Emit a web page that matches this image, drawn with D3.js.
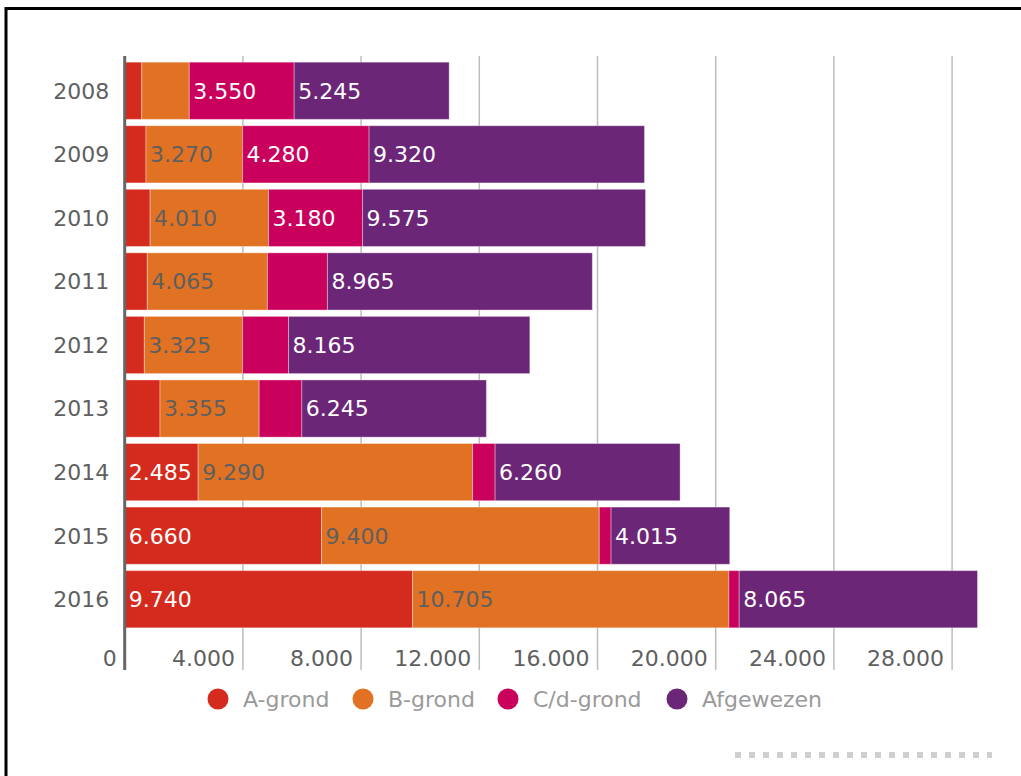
<!DOCTYPE html>
<html>
<head>
<meta charset="utf-8">
<script src="https://cdn.jsdelivr.net/npm/d3@7"></script>
<style>
  html, body { margin: 0; padding: 0; background: #fff; }
  svg { display: block; }
  text { font-family: "DejaVu Sans", Verdana, sans-serif; }
</style>
</head>
<body>
<svg id="chart" width="1021" height="776"></svg>
<script>
// ---- data ----
const years = ["2008", "2009", "2010", "2011", "2012", "2013", "2014", "2015", "2016"];
const seriesNames = ["A-grond", "B-grond", "C/d-grond", "Afgewezen"];
const aGrond    = [575, 720, 860, 765, 665, 1195, 2485, 6660, 9740];
const bGrond    = [1610, 3270, 4010, 4065, 3325, 3355, 9290, 9400, 10705];
const cdGrond   = [3550, 4280, 3180, 2030, 1555, 1445, 760, 400, 350];
const afgewezen = [5245, 9320, 9575, 8965, 8165, 6245, 6260, 4015, 8065];
const tickValues = [0, 4000, 8000, 12000, 16000, 20000, 24000, 28000];
const seriesColors = ["#d52b1e", "#e17224", "#ca005d", "#6c2677"];
const labelColors = ["#ffffff", "#5f5f5f", "#ffffff", "#ffffff"];

const seriesData = [aGrond, bGrond, cdGrond, afgewezen];
const rows = years.map((y, i) => {
  const r = { year: y };
  seriesNames.forEach((s, k) => { r[s] = seriesData[k][i]; });
  return r;
});

const nl = d3.formatLocale({ decimal: ",", thousands: ".", grouping: [3], currency: ["€", ""] });
const fmt = nl.format(",d");

const svg = d3.select("#chart");
const W = 1021, H = 776;

// frame
svg.append("rect").attr("x", 6).attr("y", 8.5).attr("width", 1040).attr("height", 800)
  .attr("fill", "none").attr("stroke", "#000").attr("stroke-width", 3);

const x = d3.scaleLinear().domain([0, 30000]).range([124.7, 1011.2]);
const y = d3.scaleBand().domain(years).range([59, 631]).paddingInner(0.1).paddingOuter(0.05);

const gridTop = 56, gridBottom = 670;

// grid lines
svg.append("g").selectAll("line").data(tickValues.filter(v => v > 0)).join("line")
  .attr("x1", d => x(d)).attr("x2", d => x(d))
  .attr("y1", gridTop).attr("y2", gridBottom)
  .attr("stroke", "#bdbdbd").attr("stroke-width", 1.5);

// stacked bars
const stack = d3.stack().keys(seriesNames);
const stacked = stack(rows);

const layers = svg.append("g").selectAll("g").data(stacked).join("g")
  .attr("fill", (d, i) => seriesColors[i]);

layers.selectAll("rect").data(d => d).join("rect")
  .attr("x", d => x(d[0]))
  .attr("y", d => y(d.data.year))
  .attr("width", d => x(d[1]) - x(d[0]))
  .attr("height", y.bandwidth())
  .attr("stroke", "#ffffff").attr("stroke-opacity", 0.35).attr("stroke-width", 1);

// segment labels
stacked.forEach((layer, k) => {
  const g = svg.append("g");
  layer.forEach(d => {
    const w = x(d[1]) - x(d[0]);
    const t = g.append("text")
      .attr("x", x(d[0]) + 4)
      .attr("y", y(d.data.year) + y.bandwidth() / 2)
      .attr("dy", "0.36em")
      .attr("font-size", 22)
      .attr("fill", labelColors[k])
      .text(fmt(d[1] - d[0]));
    const tw = t.node().getComputedTextLength();
    if (tw + 5 > w) t.remove();
  });
});

// y axis line
svg.append("line").attr("x1", x(0)).attr("x2", x(0)).attr("y1", gridTop).attr("y2", gridBottom)
  .attr("stroke", "#666").attr("stroke-width", 3);

// y labels
svg.append("g").selectAll("text").data(years).join("text")
  .attr("x", x(0) - 15.5)
  .attr("y", d => y(d) + y.bandwidth() / 2)
  .attr("dy", "0.36em")
  .attr("text-anchor", "end")
  .attr("font-size", 22)
  .attr("fill", "#5f5f5f")
  .text(d => d);

// x tick labels
svg.append("g").selectAll("text").data(tickValues).join("text")
  .attr("x", d => x(d) - 8)
  .attr("y", 658)
  .attr("dy", "0.36em")
  .attr("text-anchor", "end")
  .attr("font-size", 22)
  .attr("fill", "#5f5f5f")
  .text(d => fmt(d));

// legend
const legendX = [218, 363, 508, 677];
const legend = svg.append("g").selectAll("g").data(seriesNames).join("g")
  .attr("transform", (d, i) => `translate(${legendX[i]},699)`);
legend.append("circle").attr("r", 10.5).attr("fill", (d, i) => seriesColors[i]);
legend.append("text").attr("x", 25).attr("dy", "0.36em")
  .attr("font-size", 22).attr("fill", "#9a9a9a").text(d => d);

// dashed decoration bottom right
svg.append("line").attr("x1", 735).attr("x2", 992).attr("y1", 755).attr("y2", 755)
  .attr("stroke", "#cfcfcf").attr("stroke-width", 6).attr("stroke-dasharray", "6 8");
</script>
</body>
</html>
